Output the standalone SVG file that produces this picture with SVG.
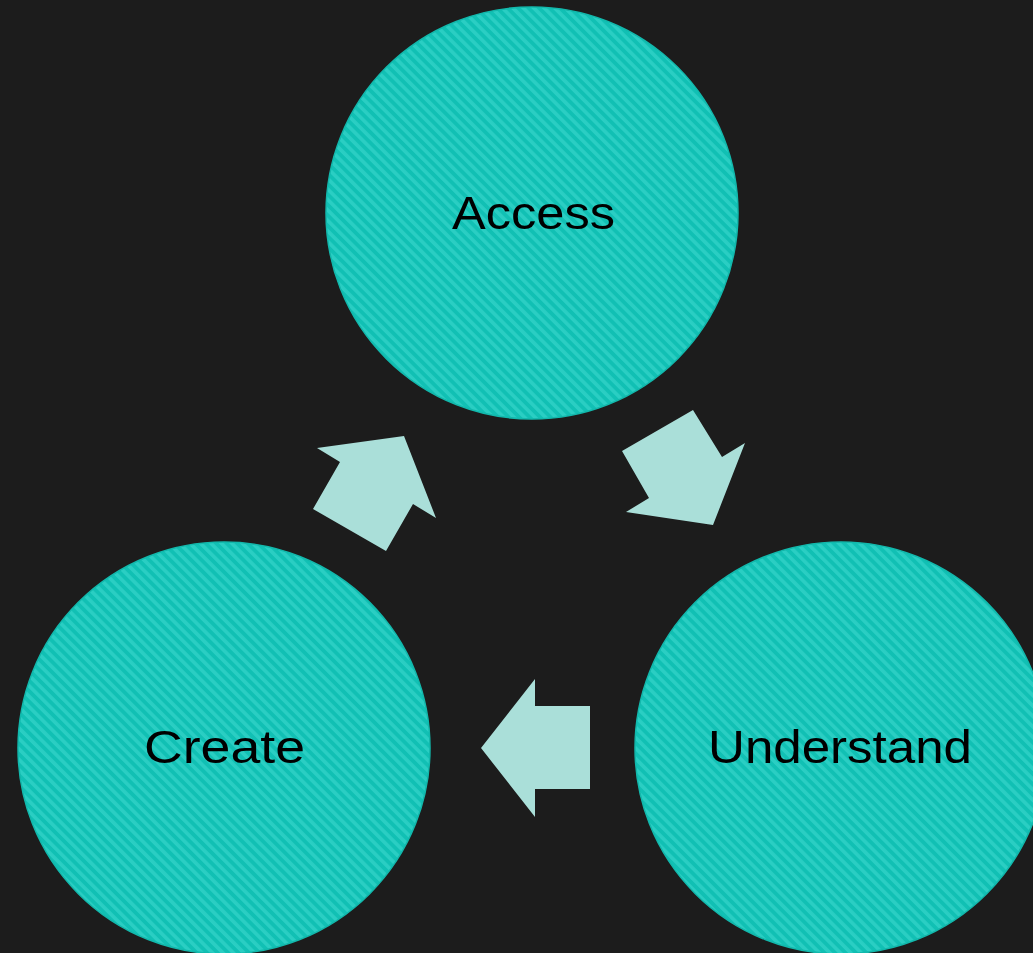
<svg xmlns="http://www.w3.org/2000/svg" width="1033" height="953" viewBox="0 0 1033 953">
<style>
.node circle{fill:url(#stripes);stroke:#12B8AC;stroke-width:1.5}
.node text{font-family:"Liberation Sans","Noto Sans",sans-serif;font-size:46px;fill:#000;text-anchor:middle}
.conn polygon{fill:#AADFD9}
</style>
<defs>
<pattern id="stripes" patternUnits="userSpaceOnUse" width="7.4" height="7.4" patternTransform="rotate(-45)">
<rect width="7.4" height="7.4" fill="#11C0B4"/>
<rect width="3.6" height="7.4" fill="#2ACEC3"/>
</pattern>
</defs>
<rect width="1033" height="953" fill="#1C1C1C"/>
<g id="access" class="node"><circle cx="532" cy="213" r="206"/><text x="533.5" y="229" textLength="163" lengthAdjust="spacingAndGlyphs">Access</text></g>
<g id="understand" class="node"><circle cx="841" cy="748" r="206"/><text x="840" y="763" textLength="264" lengthAdjust="spacingAndGlyphs">Understand</text></g>
<g id="create" class="node"><circle cx="224" cy="748" r="206"/><text x="224.5" y="763" textLength="161" lengthAdjust="spacingAndGlyphs">Create</text></g>
<g id="connectors" class="conn">
<polygon points="693,410 722,457 745,443 713,525 626,512 649,498 622,451"/>
<polygon points="481,748 535,679 535,706 590,706 590,789 535,789 535,817"/>
<polygon points="404,436 436,518 413,504 386,551 313,509 340,462 317,448"/>
</g>
</svg>
